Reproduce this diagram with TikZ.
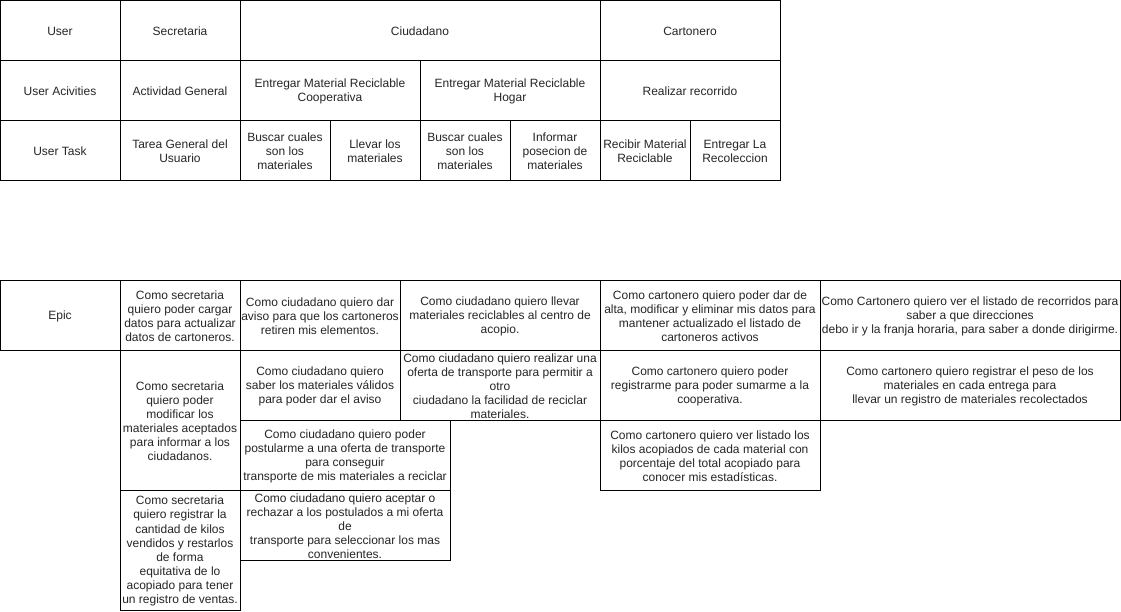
\documentclass[tikz,border=0pt]{standalone}
\usepackage{fontspec}
\setmainfont{Liberation Sans}
\newcommand\cellbox[6]{%
  \node[cellstyle, minimum width={(#4-#2)*0.75pt}, minimum height={(#5-#3)*0.75pt}] (#1) at ({(#2+#4)/2},{(#3+#5)/2}) {};
  \node[celltext] at ({(#2+#4)/2},{(#3+#5)/2+1}) {#6};}
\begin{document}
\begin{tikzpicture}[x=0.75pt,y=-0.75pt,
  cellstyle/.style={draw=black, line width=0.75pt, fill=white, inner sep=0pt},
  celltext/.style={inner sep=0pt, align=center,
    font=\fontsize{9}{10.55}\selectfont, text=black!85}]
\useasboundingbox (0,0) rectangle (1121,611);
% top table
\cellbox{user}{0}{0}{120}{60}{User}
\cellbox{secr}{120}{0}{240}{60}{Secretaria}
\cellbox{ciud}{240}{0}{600}{60}{Ciudadano}
\cellbox{cart}{600}{0}{780}{60}{Cartonero}
\cellbox{uact}{0}{60}{120}{120}{User Acivities}
\cellbox{actg}{120}{60}{240}{120}{Actividad General}
\cellbox{emrc}{240}{60}{420}{120}{Entregar Material Reciclable\\Cooperativa}
\cellbox{emrh}{420}{60}{600}{120}{Entregar Material Reciclable\\Hogar}
\cellbox{rrec}{600}{60}{780}{120}{Realizar recorrido}
\cellbox{utask}{0}{120}{120}{180}{User Task}
\cellbox{tgen}{120}{120}{240}{180}{Tarea General del\\Usuario}
\cellbox{bcm1}{240}{120}{330}{180}{Buscar cuales\\son los\\materiales}
\cellbox{llev}{330}{120}{420}{180}{Llevar los\\materiales}
\cellbox{bcm2}{420}{120}{510}{180}{Buscar cuales\\son los\\materiales}
\cellbox{inf}{510}{120}{600}{180}{Informar\\posecion de\\materiales}
\cellbox{recm}{600}{120}{690}{180}{Recibir Material\\Reciclable}
\cellbox{entr}{690}{120}{780}{180}{Entregar La\\Recoleccion}
% epics
\cellbox{epic}{0}{280}{120}{350}{Epic}
\cellbox{s1}{120}{280}{240}{350}{Como secretaria\\quiero poder cargar\\datos para actualizar\\datos de cartoneros.}
\cellbox{c1}{240}{280}{400}{350}{Como ciudadano quiero dar\\aviso para que los cartoneros\\retiren mis elementos.}
\cellbox{c2}{400}{280}{600}{350}{Como ciudadano quiero llevar\\materiales reciclables al centro de\\acopio.}
\cellbox{k1}{600}{280}{820}{350}{Como cartonero quiero poder dar de\\alta, modificar y eliminar mis datos para\\mantener actualizado el listado de\\cartoneros activos}
\cellbox{k2}{820}{280}{1120}{350}{Como Cartonero quiero ver el listado de recorridos para\\saber a que direcciones\\debo ir y la franja horaria, para saber a donde dirigirme.}
\cellbox{s2}{120}{350}{240}{490}{Como secretaria\\quiero poder\\modificar los\\materiales aceptados\\para informar a los\\ciudadanos.}
\cellbox{c3}{240}{350}{400}{420}{Como ciudadano quiero\\saber los materiales válidos\\para poder dar el aviso}
\cellbox{c4}{400}{350}{600}{420}{Como ciudadano quiero realizar una\\oferta de transporte para permitir a\\otro\\ciudadano la facilidad de reciclar\\materiales.}
\cellbox{k3}{600}{350}{820}{420}{Como cartonero quiero poder\\registrarme para poder sumarme a la\\cooperativa.}
\cellbox{k4}{820}{350}{1120}{420}{Como cartonero quiero registrar el peso de los\\materiales en cada entrega para\\llevar un registro de materiales recolectados}
\cellbox{c5}{240}{420}{450}{490}{Como ciudadano quiero poder\\postularme a una oferta de transporte\\para conseguir\\transporte de mis materiales a reciclar}
\cellbox{k5}{600}{420}{820}{490}{Como cartonero quiero ver listado los\\kilos acopiados de cada material con\\porcentaje del total acopiado para\\conocer mis estadísticas.}
\cellbox{s3}{120}{490}{240}{610}{Como secretaria\\quiero registrar la\\cantidad de kilos\\vendidos y restarlos\\de forma\\equitativa de lo\\acopiado para tener\\un registro de ventas.}
\cellbox{c6}{240}{490}{450}{560}{Como ciudadano quiero aceptar o\\rechazar a los postulados a mi oferta\\de\\transporte para seleccionar los mas\\convenientes.}
\end{tikzpicture}
\end{document}
